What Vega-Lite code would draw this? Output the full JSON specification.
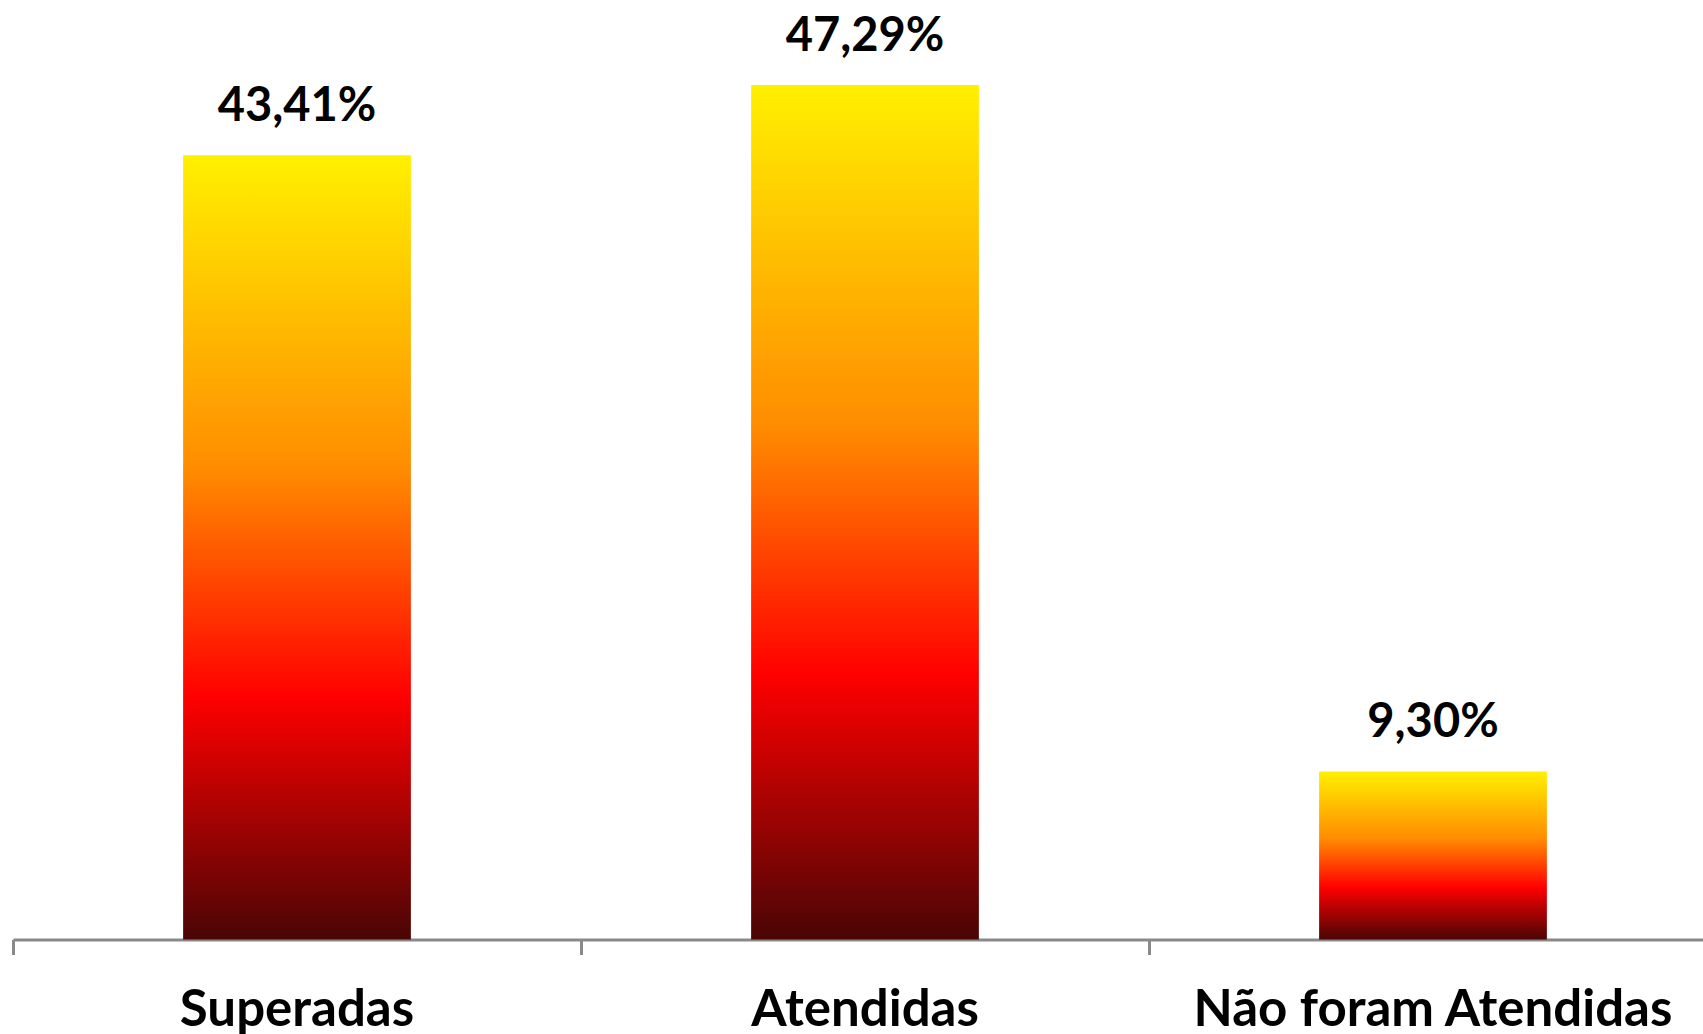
{
  "$schema": "https://vega.github.io/schema/vega-lite/v6.json",
  "width": 1690,
  "height": 939.5,
  "autosize": {"type": "none"},
  "padding": {"left": 13, "top": 0, "right": 0, "bottom": 94.5},
  "background": "white",
  "config": {"view": {"stroke": null}},
  "data": {
    "values": [
      {"categoria": "Superadas", "valor": 43.41, "rotulo": "43,41%"},
      {"categoria": "Atendidas", "valor": 47.29, "rotulo": "47,29%"},
      {"categoria": "Não foram Atendidas", "valor": 9.30, "rotulo": "9,30%"}
    ]
  },
  "encoding": {
    "x": {
      "field": "categoria",
      "type": "nominal",
      "sort": null,
      "scale": {"paddingInner": 0, "paddingOuter": 0, "range": [0, 1704]},
      "axis": {
        "title": null,
        "bandPosition": 0,
        "labelAngle": 0,
        "labelFont": "Lato",
        "labelFontWeight": "bold",
        "labelFontSize": 51,
        "labelColor": "black",
        "labelBaseline": "alphabetic",
        "labelPadding": 71,
        "labelLimit": 2000,
        "labelOverlap": false,
        "labelFlush": false,
        "tickSize": 15,
        "tickColor": "#898989",
        "tickWidth": 3,
        "domainColor": "#898989",
        "domainWidth": 3,
        "grid": false
      }
    }
  },
  "layer": [
    {
      "mark": {
        "type": "bar",
        "width": {"band": 0.401},
        "color": {
          "gradient": "linear",
          "x1": 0, "y1": 0, "x2": 0, "y2": 1,
          "stops": [
            {"offset": 0, "color": "#FFF000"},
            {"offset": 0.4, "color": "#FF8C00"},
            {"offset": 0.69, "color": "#FF0000"},
            {"offset": 1, "color": "#4A0505"}
          ]
        }
      },
      "encoding": {
        "y": {"field": "valor", "type": "quantitative", "scale": {"domain": [0, 52], "nice": false, "zero": true}, "axis": null}
      }
    },
    {
      "mark": {
        "type": "text",
        "font": "Lato",
        "fontWeight": "bold",
        "fontSize": 47,
        "baseline": "alphabetic",
        "dy": -34,
        "color": "black"
      },
      "encoding": {
        "y": {"field": "valor", "type": "quantitative"},
        "text": {"field": "rotulo"}
      }
    }
  ]
}
